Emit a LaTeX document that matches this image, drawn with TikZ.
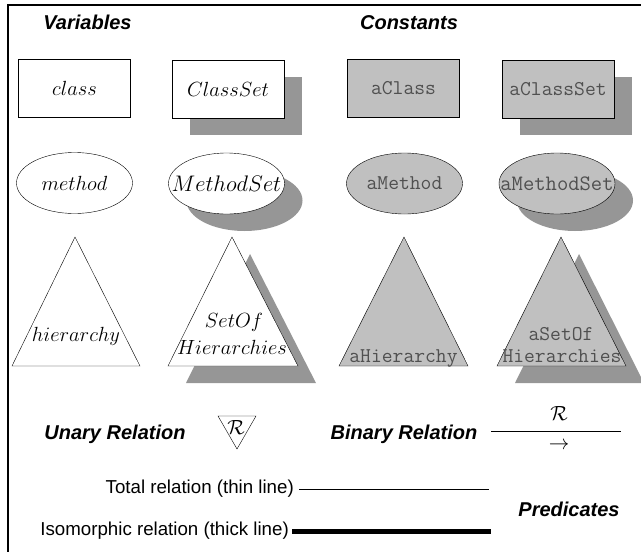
\RequirePackage{fix-cm}
\documentclass[tikz,border=0pt]{standalone}
\usepackage{fontspec}
\setsansfont{Liberation Sans}
\usetikzlibrary{shapes.geometric, shadows}
\definecolor{ConstGray}{RGB}{192, 192, 192}
\definecolor{ShadowGray}{RGB}{150, 150, 150}
\definecolor{ConstText}{RGB}{80, 80, 80}

\begin{document}
\begin{tikzpicture}[x=1pt, y=-1pt,
    varbox/.style={draw, fill=white, minimum width=112pt, minimum height=58pt, inner sep=0pt},
    constbox/.style={varbox, fill=ConstGray},
    varoval/.style={draw, ellipse, fill=white, minimum width=116pt, minimum height=61pt, inner sep=0pt},
    constoval/.style={varoval, fill=ConstGray},
    setshadow/.style={drop shadow={shadow xshift=18pt, shadow yshift=-17pt, fill=ShadowGray, opacity=1}},
    heading/.style={font=\fontsize{20}{24}\selectfont\sffamily\bfseries\itshape},
    mathlbl/.style={font=\fontsize{20.5}{24}\selectfont, inner sep=0pt},
    constlbl/.style={font=\fontsize{21}{24}\selectfont\ttfamily, text=ConstText, inner sep=0pt},
    notelbl/.style={font=\fontsize{18.7}{22}\selectfont\sffamily, inner ysep=1pt}]
    \useasboundingbox (0,0) rectangle (641,552);
    \draw[line width=2pt] (8,552) -- (8,5) -- (641,5);

    % column titles
    \node[heading, anchor=base] (vartitle) at (87.5,29) {Variables};
    \node[heading, anchor=base] (consttitle) at (409,29) {Constants};

    % classes
    \node[varbox, mathlbl] (class) at (74.5,88.5) {$class$};
    \node[varbox, mathlbl, setshadow] (classset) at (228,89) {$ClassSet$};
    \node[constbox, constlbl] (aclass) at (403.5,88.5) {aClass};
    \node[constbox, constlbl, setshadow] (aclassset) at (558,89) {aClassSet};

    % methods (set labels fill the oval to its rim)
    \node[varoval, mathlbl] (method) at (74.5,183) {$method$};
    \node[varoval, mathlbl, font=\fontsize{22.5}{26}\selectfont, setshadow] (methodset) at (226.5,183.5) {\makebox[0pt]{$MethodSet$}};
    \node[constoval, constlbl] (amethod) at (404.5,183.5) {aMethod};
    \node[constoval, constlbl, font=\fontsize{22}{26}\selectfont\ttfamily, setshadow] (amethodset) at (557,183.5) {\makebox[0pt]{aMethodSet}};

    % hierarchies
    \filldraw[fill=white] (75,237) -- (140,366) -- (12,366) -- cycle;
    \node[mathlbl, anchor=base] (hier) at (76,341) {$hierarchy$};
    \filldraw[fill=white, setshadow] (232,237) -- (298,366) -- (168,366) -- cycle;
    \node[mathlbl, anchor=base] (setof) at (234,327) {$SetOf$};
    \node[mathlbl, anchor=base] (sethier) at (232,354) {$Hierarchies$};
    \filldraw[fill=ConstGray] (404,237) -- (468,366) -- (339,366) -- cycle;
    \node[constlbl, anchor=base] (ahier) at (403.5,362) {aHierarchy};
    \filldraw[fill=ConstGray, setshadow] (561,237) -- (626,366) -- (497,366) -- cycle;
    \node[constlbl, anchor=base] (asetof) at (561,340) {aSetOf};
    \node[constlbl, anchor=base] (asethier) at (562,362) {Hierarchies};

    % relations
    \node[heading, anchor=base] (unary) at (115,439) {Unary Relation};
    \draw (218,416) -- (256,416) -- (237,449) -- cycle;
    \node[mathlbl] (unaryR) at (236,427) {$\mathcal{R}$};
    \node[heading, anchor=base] (binary) at (404,439) {Binary Relation};
    \coordinate (binL) at (491,431);
    \coordinate (binR) at (621,431);
    \draw (binL) -- (binR);
    \node[mathlbl] (binaryR) at (559,413) {$\mathcal{R}$};
    \node[mathlbl] (binarrow) at (559,446) {$\to$};

    % predicates
    \node[notelbl, anchor=east, inner xsep=5pt] (total) at (299,489) {Total relation (thin line)};
    \coordinate (totalend) at (489,489);
    \draw[line width=1pt] (total.east) -- (totalend);
    \node[notelbl, anchor=east, inner xsep=3pt] (iso) at (292,531) {Isomorphic relation (thick line)};
    \coordinate (isoend) at (491,531);
    \draw[line width=5pt] (iso.east) -- (isoend);
    \node[heading, anchor=base] (preds) at (569,516) {Predicates};
\end{tikzpicture}
\end{document}
